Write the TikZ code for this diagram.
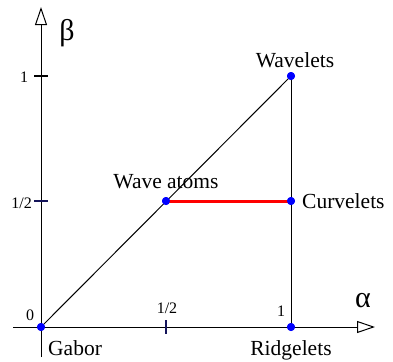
\documentclass[tikz,border=0pt]{standalone}
\usepackage{fontspec}
\setmainfont{Liberation Serif}
\newfontfamily\tmfont{Liberation Serif}
\usetikzlibrary{arrows.meta}
\begin{document}
\begin{tikzpicture}[x=1bp,y=-1bp,
  axis/.style={line width=1bp,-{Triangle[open,length=18bp,width=12bp,line width=1bp]}},
  line/.style={line width=1bp},
  tick/.style={line width=1.2bp},
  halftick/.style={line width=1.2bp,draw={rgb,255:red,20;green,20;blue,90}},
  dot/.style={circle,fill=blue,inner sep=0pt,minimum size=8bp},
  lab/.style={font=\tmfont\fontsize{21.5bp}{24bp}\selectfont,anchor=base,inner sep=0pt},
  ticklab/.style={font=\tmfont\fontsize{16bp}{18bp}\selectfont,anchor=base,inner sep=0pt},
  greek/.style={font=\tmfont\fontsize{30bp}{32bp}\selectfont,inner sep=0pt}]
\useasboundingbox (0,0) rectangle (393,362);
% points
\node[dot] (G) at (41,327) {};
\node[dot] (W) at (291,76) {};
\node[dot] (A) at (166,201) {};
\node[dot] (C) at (291,201) {};
\node[dot] (R) at (291,327) {};
% axes
\coordinate (ybot) at (41,357);
\coordinate (ytop) at (41,7);
\coordinate (xleft) at (13,327);
\coordinate (xright) at (375,327);
\draw[axis] (ybot) -- (ytop);
\draw[axis] (xleft) -- (xright);
% ticks
\coordinate (t1a) at (34,76); \coordinate (t1b) at (48,76);
\draw[tick] (t1a) -- (t1b);
\coordinate (th1) at (34,201); \coordinate (th2) at (48,201);
\draw[halftick] (th1) -- (th2);
\coordinate (tx1) at (166,320); \coordinate (tx2) at (166,334);
\draw[halftick] (tx1) -- (tx2);
% lines
\draw[line] (G.center) -- (W.center);
\draw[line] (W.center) -- (R.center);
\draw[line width=3bp,red] (A.center) -- (C.center);
\node[dot] at (A) {};
\node[dot] at (C) {};
\node[dot] at (W) {};
\node[dot] at (G) {};
\node[dot] at (R) {};
% labels
\node[lab] (lW) at (295,67) {Wavelets};
\node[lab] (lA) at (166,188) {Wave atoms};
\node[lab,anchor=base west] (lC) at (302,208) {Curvelets};
\node[lab,anchor=base west] (lG) at (48,355) {Gabor};
\node[lab] (lR) at (291,355) {Ridgelets};
\node[ticklab] (n1) at (24,82) {1};
\node[ticklab,anchor=base east] (nh) at (32,208) {1/2};
\node[ticklab] (n0) at (30,320) {0};
\node[ticklab] (xh) at (167,313) {1/2};
\node[ticklab] (x1) at (281,316) {1};
\node[greek] (beta) at (67,33) {β};
\node[greek] (alpha) at (363,301) {α};
\end{tikzpicture}
\end{document}
